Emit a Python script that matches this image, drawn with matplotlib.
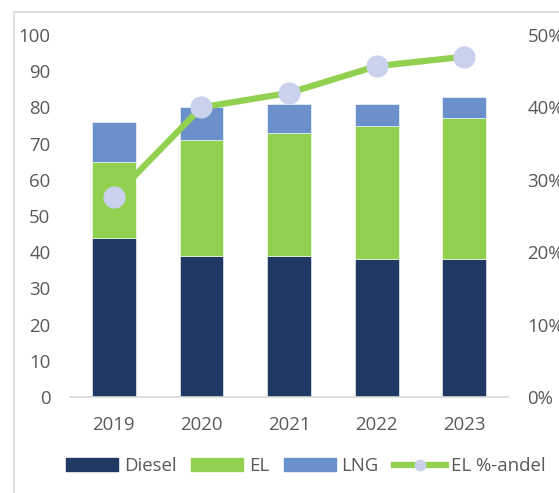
import matplotlib.pyplot as plt
from matplotlib.patches import Patch, Rectangle
from matplotlib.lines import Line2D
from matplotlib.ticker import PercentFormatter

plt.rcParams["font.family"] = ["Open Sans", "DejaVu Sans"]

years = ["2019", "2020", "2021", "2022", "2023"]
diesel = [44, 39, 39, 38, 38]
el = [21, 32, 34, 37, 39]
lng = [11, 9, 8, 6, 6]
el_share = [0.276, 0.40, 0.42, 0.457, 0.47]

c_diesel = "#203864"
c_el = "#92D050"
c_lng = "#6A91CB"
c_marker = "#C9D1EC"
txt = "#595959"
fs = 13.4

W, H = 559, 493
fig = plt.figure(figsize=(W / 100, H / 100), dpi=100)

# light frame around the chart (cropped on right and bottom)
fig.patches.append(Rectangle((14 / W, -0.05), 1.2, (H - 12) / H + 0.05,
                             transform=fig.transFigure, fill=False,
                             edgecolor="#D9D9D9", linewidth=1.2))

ax = fig.add_axes([70 / W, (H - 397) / H, (508 - 70) / W, (397 - 35) / H])
x = list(range(len(years)))
bottom2 = [d + e for d, e in zip(diesel, el)]

kw = dict(width=0.5, edgecolor="white", linewidth=0.4)
ax.bar(x, diesel, color=c_diesel, **kw)
ax.bar(x, el, bottom=diesel, color=c_el, **kw)
ax.bar(x, lng, bottom=bottom2, color=c_lng, **kw)

ax.set_xlim(-0.5, 4.5)
ax.set_ylim(0, 100)
ax.set_yticks(range(0, 101, 10))
ax.set_xticks(x)
ax.set_xticklabels(years)
for s in ["top", "left", "right"]:
    ax.spines[s].set_visible(False)
ax.spines["bottom"].set_color("#D9D9D9")
ax.spines["bottom"].set_linewidth(1.2)
ax.tick_params(axis="y", length=0, pad=14, labelsize=fs, labelcolor=txt)
ax.tick_params(axis="x", length=0, pad=14, labelsize=fs, labelcolor=txt)

ax2 = ax.twinx()
ax2.plot(x, el_share, color=c_el, linewidth=4.5, marker="o", markersize=15,
         markerfacecolor=c_marker, markeredgecolor=c_marker, zorder=5)
ax2.set_ylim(0, 0.5)
ax2.set_yticks([0, 0.1, 0.2, 0.3, 0.4, 0.5])
ax2.yaxis.set_major_formatter(PercentFormatter(1.0, decimals=0))
for s in ["top", "left", "right", "bottom"]:
    ax2.spines[s].set_visible(False)
ax2.tick_params(axis="y", length=0, pad=14, labelsize=fs, labelcolor=txt)

handles = [
    Patch(color=c_diesel, label="Diesel"),
    Patch(color=c_el, label="EL"),
    Patch(color=c_lng, label="LNG"),
    Line2D([0], [0], color=c_el, linewidth=4.5, marker="o", markersize=7.5,
           markerfacecolor=c_marker, markeredgecolor=c_marker, label="EL %-andel"),
]
leg = fig.legend(handles=handles, loc="center", bbox_to_anchor=(306 / W, (H - 466) / H),
                 ncol=4, frameon=False, fontsize=fs, handlelength=2.8,
                 handleheight=0.65, handletextpad=0.3, columnspacing=0.8)
for t in leg.get_texts():
    t.set_color(txt)

fig.savefig("out.png", dpi=100)
